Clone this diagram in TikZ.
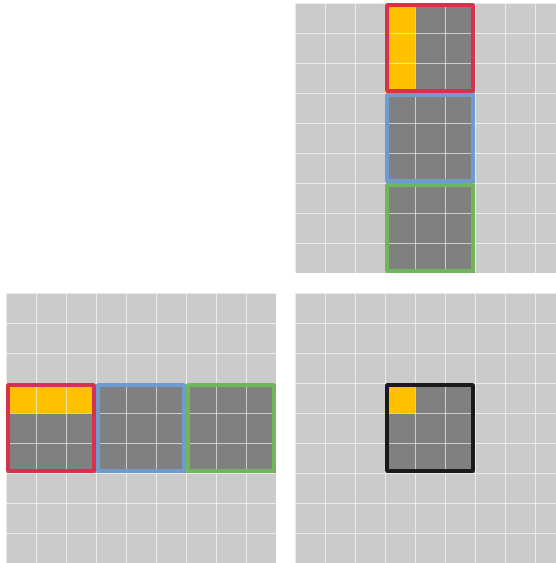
\documentclass[tikz,border=0pt]{standalone}
\usetikzlibrary{calc}
\definecolor{cellclr}{RGB}{203,203,203}
\definecolor{fillclr}{RGB}{128,128,128}
\definecolor{hitclr}{RGB}{255,192,0}
\definecolor{redclr}{RGB}{214,50,76}
\definecolor{blueclr}{RGB}{110,155,208}
\definecolor{greenclr}{RGB}{112,182,90}
\definecolor{blackclr}{RGB}{26,26,26}
\tikzset{
  gridline/.style={white,opacity=0.6,line width=0.9pt},
  frame/.style={line width=3.6pt,line join=round},
}
\begin{document}
\begin{tikzpicture}[x=1pt,y=-1pt]
\useasboundingbox (0,0) rectangle (556,563);
\clip (0,0) rectangle (556,563);

% three 9x9 boards
\foreach \ox/\oy in {295/3, 6/293, 295/293} {
  \fill[cellclr] (\ox,\oy) rectangle ++(270,270);
}

% filled 3x3 blocks
\fill[fillclr] (385,3) rectangle (475,273);
\fill[fillclr] (6,383) rectangle (276,473);
\fill[fillclr] (385,383) rectangle (475,473);

% highlighted cells
\fill[hitclr] (385,3) rectangle (415,93);
\fill[hitclr] (6,383) rectangle (96,413);
\fill[hitclr] (385,383) rectangle (415,413);

% cell lines
\foreach \ox/\oy in {295/3, 6/293, 295/293} {
  \foreach \i in {0,...,9} {
    \draw[gridline] (\ox+30*\i,\oy) -- ++(0,270);
    \draw[gridline] (\ox,\oy+30*\i) -- ++(270,0);
  }
}

% frames, top right
\draw[frame,redclr] (387,5) rectangle (473,91);
\draw[frame,blueclr] (387,95) rectangle (473,181);
\draw[frame,greenclr] (387,185) rectangle (473,271);

% frames, bottom left
\draw[frame,redclr] (8,385) rectangle (94,471);
\draw[frame,blueclr] (98,385) rectangle (184,471);
\draw[frame,greenclr] (188,385) rectangle (274,471);

% frame, bottom right
\draw[frame,blackclr] (387,385) rectangle (473,471);
\end{tikzpicture}
\end{document}
